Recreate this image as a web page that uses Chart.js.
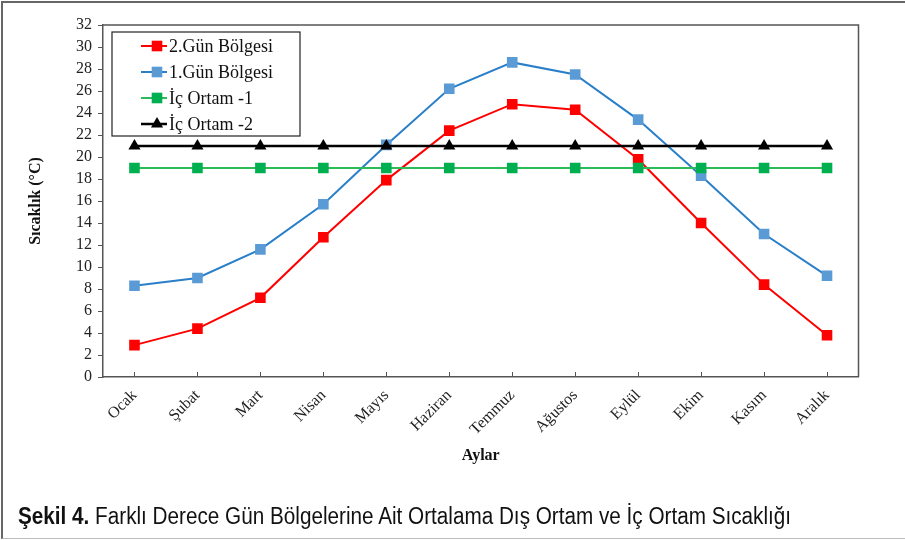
<!DOCTYPE html>
<html>
<head>
<meta charset="utf-8">
<script src="https://cdn.jsdelivr.net/npm/chart.js@4"></script>
<style>
  html, body { margin: 0; padding: 0; background: #fff; }
  #wrap { position: relative; width: 905px; height: 540px; overflow: hidden; }
  #frame { position: absolute; left: 1px; top: 1px; width: 910px; height: 538px; border-left: 2px solid #666; border-top: 2px solid #666; border-bottom: 1.5px solid #bbb; box-sizing: border-box; }
  #chart { position: absolute; left: 0; top: 0; }
  #caption { position: absolute; left: 18px; top: 505px; line-height: 23px; font-family: "Liberation Sans", Arial, sans-serif; font-size: 23px; color: #111; white-space: nowrap; transform: scaleX(0.9); transform-origin: 0 0; }
</style>
</head>
<body>
<div id="wrap">
  <div id="frame"></div>
  <canvas id="chart" width="905" height="540"></canvas>
  <div id="caption"><b>Şekil 4.</b> Farklı Derece Gün Bölgelerine Ait Ortalama Dış Ortam ve İç Ortam Sıcaklığı</div>
</div>
<script>
// months (x categories)
const months = ["Ocak", "Şubat", "Mart", "Nisan", "Mayıs", "Haziran", "Temmuz", "Ağustos", "Eylül", "Ekim", "Kasım", "Aralık"];

// series values (°C)
const gun2 = [2.9, 4.4, 7.2, 12.7, 17.9, 22.4, 24.8, 24.3, 19.8, 14.0, 8.4, 3.8];
const gun1 = [8.3, 9.0, 11.6, 15.7, 21.1, 26.2, 28.6, 27.5, 23.4, 18.3, 13.0, 9.2];
const icOrtam1 = [19, 19, 19, 19, 19, 19, 19, 19, 19, 19, 19, 19];
const icOrtam2 = [21, 21, 21, 21, 21, 21, 21, 21, 21, 21, 21, 21];

const serif = "'Liberation Serif', 'Times New Roman', serif";

function marker(ctx, style, color, x, y, r) {
  ctx.fillStyle = color;
  ctx.beginPath();
  if (style === "triangle") {
    ctx.moveTo(x, y - r);
    ctx.lineTo(x + r * 0.866, y + r * 0.5);
    ctx.lineTo(x - r * 0.866, y + r * 0.5);
  } else {
    const s = r * Math.SQRT1_2;
    ctx.rect(x - s, y - s, 2 * s, 2 * s);
  }
  ctx.closePath();
  ctx.fill();
}

// frame on top/right, inner x ticks, and the boxed legend
const extras = {
  id: "extras",
  afterDraw(chart) {
    const { ctx, chartArea: a, scales: { x } } = chart;
    ctx.save();
    ctx.strokeStyle = "#555";
    ctx.lineWidth = 1.5;
    ctx.beginPath();
    ctx.moveTo(a.left, a.top);
    ctx.lineTo(a.right, a.top);
    ctx.lineTo(a.right, a.bottom);
    ctx.stroke();

    ctx.lineWidth = 1;
    ctx.beginPath();
    months.forEach((m, i) => {
      const px = Math.round(x.getPixelForValue(i)) + 0.5;
      ctx.moveTo(px, a.bottom);
      ctx.lineTo(px, a.bottom - 5);
    });
    ctx.stroke();

    // legend
    const bx = a.left + 9, by = a.top + 7, bw = 188, bh = 104;
    ctx.fillStyle = "#fff";
    ctx.fillRect(bx, by, bw, bh);
    ctx.strokeStyle = "#222";
    ctx.lineWidth = 1.2;
    ctx.strokeRect(bx, by, bw, bh);
    ctx.font = "18px " + serif;
    ctx.textBaseline = "middle";
    chart.data.datasets.forEach((ds, i) => {
      const y = by + 14 + i * 26;
      ctx.strokeStyle = ds.borderColor;
      ctx.lineWidth = ds.borderWidth;
      ctx.beginPath();
      ctx.moveTo(bx + 29, y);
      ctx.lineTo(bx + 55, y);
      ctx.stroke();
      marker(ctx, ds.pointStyle, ds.pointBackgroundColor, bx + 45, y, ds.pointRadius);
      ctx.fillStyle = "#111";
      ctx.fillText(ds.label, bx + 57, y + 1);
    });
    ctx.restore();
  }
};

new Chart(document.getElementById("chart").getContext("2d"), {
  type: "line",
  data: {
    labels: months,
    datasets: [
      {
        label: "2.Gün Bölgesi",
        data: gun2,
        borderColor: "#ff0000",
        backgroundColor: "#ff0000",
        pointBackgroundColor: "#ff0000",
        pointBorderWidth: 0,
        pointStyle: "rect",
        pointRadius: 7.5,
        borderWidth: 2,
        order: 3,
      },
      {
        label: "1.Gün Bölgesi",
        data: gun1,
        borderColor: "#2a7fc9",
        backgroundColor: "#5b9bd5",
        pointBackgroundColor: "#5b9bd5",
        pointBorderWidth: 0,
        pointStyle: "rect",
        pointRadius: 7.5,
        borderWidth: 2,
        order: 2,
      },
      {
        label: "İç Ortam -1",
        data: icOrtam1,
        borderColor: "#2dbb5a",
        backgroundColor: "#00b050",
        pointBackgroundColor: "#00b050",
        pointBorderWidth: 0,
        pointStyle: "rect",
        pointRadius: 7.5,
        borderWidth: 2,
        order: 1,
      },
      {
        label: "İç Ortam -2",
        data: icOrtam2,
        borderColor: "#000000",
        backgroundColor: "#000000",
        pointBackgroundColor: "#000000",
        pointBorderWidth: 0,
        pointStyle: "triangle",
        pointRadius: 7,
        borderWidth: 2.5,
        order: 0,
      },
    ],
  },
  options: {
    responsive: false,
    animation: false,
    layout: { padding: { left: 3, right: 46.5, top: 25, bottom: 73 } },
    plugins: {
      legend: { display: false },
      tooltip: { enabled: false },
    },
    scales: {
      x: {
        offset: true,
        grid: { display: false, drawTicks: false },
        border: { display: true, color: "#555", width: 1.5 },
        ticks: {
          font: { family: serif, size: 16 },
          color: "#222",
          minRotation: 45,
          maxRotation: 45,
          autoSkip: false,
          padding: 9,
        },
        title: {
          display: true,
          text: "Aylar",
          font: { family: serif, size: 16, weight: "bold" },
          color: "#111",
          padding: { top: 0, bottom: 2 },
        },
        afterFit(s) { s.height = 90; },
      },
      y: {
        min: 0,
        max: 32,
        grid: { display: true, drawOnChartArea: false, drawTicks: true, tickLength: 5, color: "#555" },
        border: { display: true, color: "#555", width: 1.5 },
        ticks: {
          stepSize: 2,
          autoSkip: false,
          font: { family: serif, size: 16 },
          color: "#222",
          padding: 6,
        },
        title: {
          display: true,
          text: "Sıcaklık (°C)",
          font: { family: serif, size: 16, weight: "bold" },
          color: "#111",
          padding: { top: 23, bottom: 0 },
        },
        afterFit(s) { s.width = 100; },
      },
    },
  },
  plugins: [extras],
});
</script>
</body>
</html>
